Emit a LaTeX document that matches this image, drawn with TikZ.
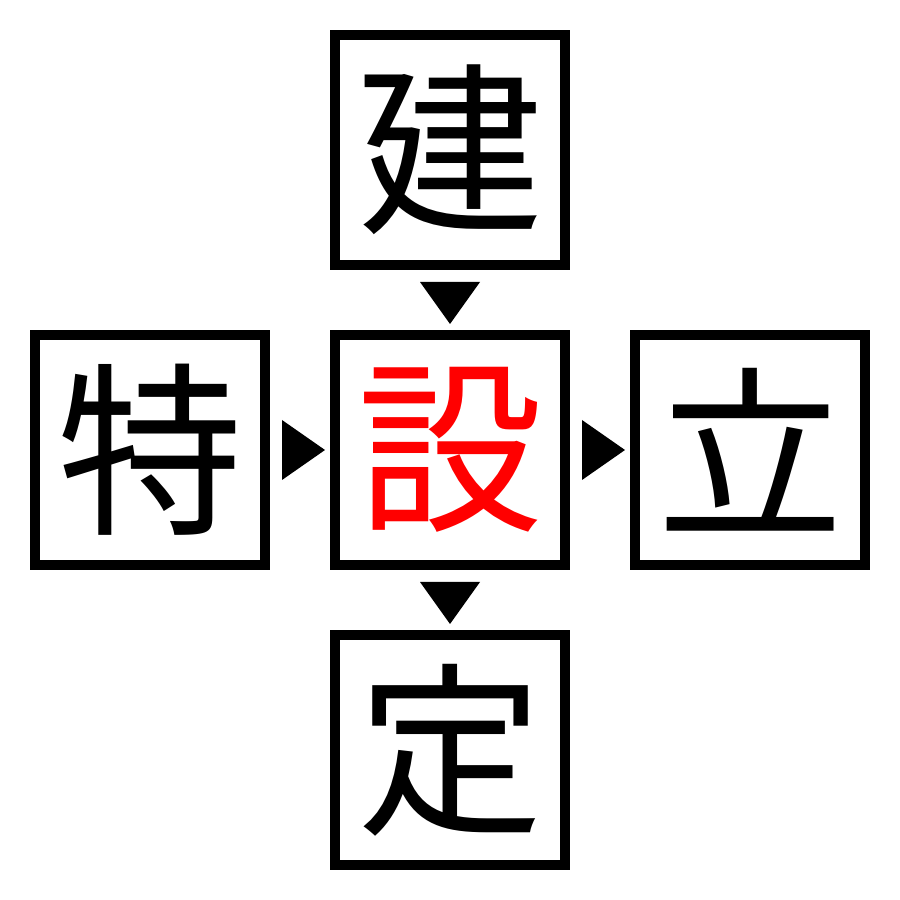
\documentclass[tikz,border=0pt]{standalone}
\usepackage{fontspec}
\newfontfamily\cjk{Noto Sans CJK JP}
\usetikzlibrary{calc}
\tikzset{
  charbox/.style={draw=black, line width=10pt, minimum size=230pt, inner sep=0pt, outer sep=5pt,
    font=\cjk\fontsize{186pt}{186pt}\selectfont, text=black},
  hl/.style={text=red},
  tip/.style={fill=black}
}
\begin{document}
\begin{tikzpicture}[x=1pt,y=1pt]
\useasboundingbox (0,0) rectangle (900,900);
\node[charbox] (top) at (450,750) {建};
\node[charbox] (left) at (150,450) {特};
\node[charbox, hl] (mid) at (450,450) {設};
\node[charbox] (right) at (750,450) {立};
\node[charbox] (bot) at (450,150) {定};
% arrowheads between boxes
\fill[tip] ($(top.south)+(-30,-12)$) -- ($(top.south)+(30,-12)$) -- ($(top.south)+(0,-54)$) -- cycle;
\fill[tip] ($(mid.south)+(-30,-12)$) -- ($(mid.south)+(30,-12)$) -- ($(mid.south)+(0,-54)$) -- cycle;
\fill[tip] ($(left.east)+(12,30)$) -- ($(left.east)+(12,-30)$) -- ($(left.east)+(55,0)$) -- cycle;
\fill[tip] ($(mid.east)+(12,30)$) -- ($(mid.east)+(12,-30)$) -- ($(mid.east)+(55,0)$) -- cycle;
\end{tikzpicture}
\end{document}
